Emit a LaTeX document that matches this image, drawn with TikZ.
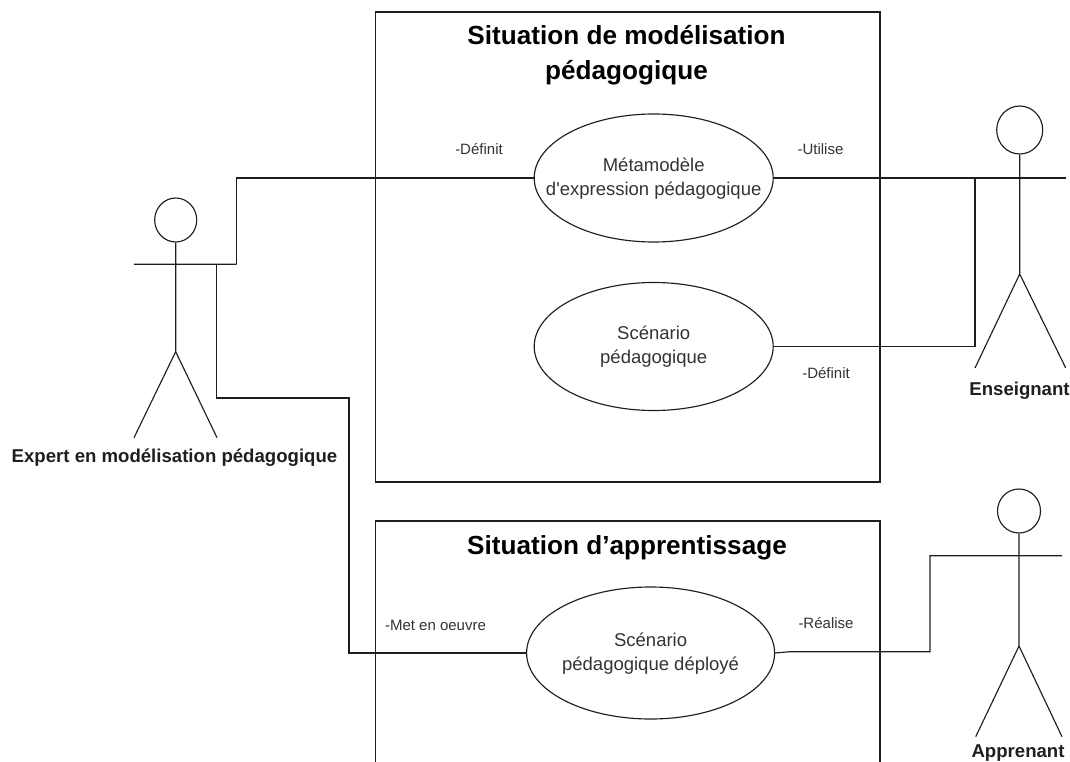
\documentclass[tikz,border=0pt]{standalone}
\usepackage{fontspec}
\setmainfont{Liberation Sans}
\newfontfamily\plainsans{Liberation Sans}
\usetikzlibrary{shapes.geometric}
\tikzset{
  x=1pt,y=-1pt,
  wire/.style={draw=black!88,line width=1.15pt},
  usecase/.style={draw=black!88,line width=1.15pt,ellipse,inner sep=0pt,minimum width=239pt,minimum height=128pt},
  casetext/.style={inner sep=0pt,align=center,font=\plainsans\fontsize{18.5}{24.5}\selectfont,text=black!80},
  role/.style={inner sep=0pt,font=\fontsize{15}{18}\selectfont,text=black!80},
  actorname/.style={inner sep=0pt,font=\bfseries\fontsize{18.6}{22}\selectfont,text=black!88},
  title/.style={inner sep=0pt,align=center,font=\bfseries\fontsize{26.15}{35}\selectfont},
  head/.style={draw=black!88,line width=1.15pt,ellipse,inner sep=0pt},
  frame/.style={draw=black!88,line width=1.15pt}
}
\begin{document}
\begin{tikzpicture}
\useasboundingbox (0,0) rectangle (1070,762);
% frames
\draw[frame] (375.5,12) rectangle (880,482);
\draw[frame] (375.5,762) -- (375.5,521) -- (880,521) -- (880,762);
\node[title] (t1) at (626.5,55) {Situation de modélisation\\pédagogique};
\node[title] (t2) at (627,548) {Situation d’apprentissage};
% use cases
\node[usecase] (u1) at (653.7,178) {};
\node[casetext] (u1t) at (653.7,178.5) {Métamodèle\\d'expression pédagogique};
\node[usecase] (u2) at (653.7,346.5) {};
\node[casetext] (u2t) at (653.7,346.5) {Scénario\\pédagogique};
\node[usecase,minimum width=248pt,minimum height=132pt] (u3) at (650.6,653) {};
\node[casetext] (u3t) at (650.6,653.5) {Scénario\\pédagogique déployé};
% actor 1
\node[head,minimum width=42pt,minimum height=44pt] (h1) at (175.7,220) {};
\coordinate (c1) at (175.7,351.7);
\coordinate (a1l) at (134,264.3);
\coordinate (a1r) at (236.7,264.3);
\coordinate (l1) at (134,437.7);
\coordinate (r1) at (217,437.7);
\draw[wire] (h1.south) -- (c1) (l1) -- (c1) -- (r1) (a1l) -- (a1r);
\node[actorname] (n1t) at (174.5,458) {Expert en modélisation pédagogique};
% actor 2
\node[head,minimum width=46pt,minimum height=48pt] (h2) at (1019.7,130) {};
\coordinate (c2) at (1019.7,274);
\draw[wire] (h2.south) -- (c2) (975,368) -- (c2) -- (1065.7,368);
\node[actorname] (n2t) at (1019.5,390.5) {Enseignant};
% actor 3
\node[head,minimum width=43pt,minimum height=44pt] (h3) at (1019,511) {};
\coordinate (c3) at (1019,646);
\draw[wire] (h3.south) -- (c3) (975.7,736.7) -- (c3) -- (1062,736.7);
\node[actorname] (n3t) at (1018,752.8) {Apprenant};
% connectors
\coordinate (j1) at (236.7,178);
\draw[wire] (a1r) -- (j1) -- (u1.west);
\coordinate (e2) at (1065.7,178);
\draw[wire] (u1.east) -- (e2);
\coordinate (j2) at (975,178);
\coordinate (j3) at (975,346.5);
\draw[wire] (u2.east) -- (j3) -- (j2);
\coordinate (s1) at (216.7,264.3);
\coordinate (s2) at (216.7,398);
\coordinate (s3) at (349,398);
\coordinate (s4) at (349,653);
\draw[wire] (s1) -- (s2) -- (s3) -- (s4) -- (u3.west);
\coordinate (k0) at (790,651.7);
\coordinate (k1) at (930,651.7);
\coordinate (k2) at (930,555.7);
\coordinate (k3) at (1062,555.7);
\draw[wire] (u3.east) -- (k0) -- (k1) -- (k2) -- (k3);
% labels
\node[role] (lb1) at (479,149) {-Définit};
\node[role] (lb2) at (820.5,149) {-Utilise};
\node[role] (lb3) at (826,373) {-Définit};
\node[role] (lb4) at (435.5,625) {-Met en oeuvre};
\node[role] (lb5) at (826,623) {-Réalise};
\end{tikzpicture}
\end{document}
